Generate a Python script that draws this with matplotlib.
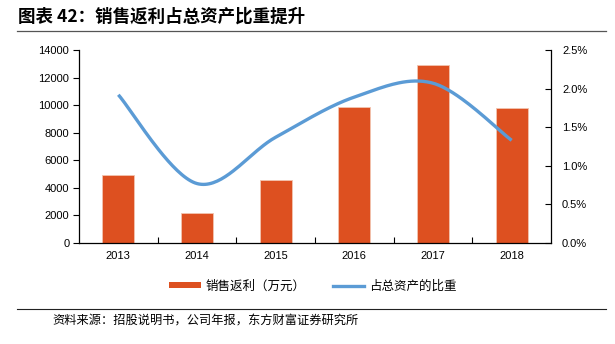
import numpy as np
import matplotlib.pyplot as plt
from matplotlib.lines import Line2D
from matplotlib.patches import Patch

plt.rcParams['font.family'] = ['Liberation Sans', 'Noto Sans CJK SC']

years = ['2013', '2014', '2015', '2016', '2017', '2018']
rebate = [4950, 2150, 4600, 9900, 12900, 9800]          # 销售返利（万元）
share = [1.92, 0.77, 1.37, 1.89, 2.07, 1.33]            # 占总资产的比重 (%)

BAR_COLOR = '#DD5020'
LINE_COLOR = '#5B9BD5'


def smooth(xs, ys, n=40):
    # Excel-style smoothed line: cubic bezier with catmull-rom control points
    xs = np.asarray(xs, float)
    ys = np.asarray(ys, float)
    px, py = [], []
    for i in range(len(xs) - 1):
        x0, y0 = (xs[i - 1], ys[i - 1]) if i > 0 else (xs[i], ys[i])
        x3, y3 = (xs[i + 2], ys[i + 2]) if i + 2 < len(xs) else (xs[i + 1], ys[i + 1])
        p1 = np.array([xs[i], ys[i]])
        p2 = np.array([xs[i + 1], ys[i + 1]])
        c1 = p1 + (p2 - np.array([x0, y0])) / 6
        c2 = p2 - (np.array([x3, y3]) - p1) / 6
        t = np.linspace(0, 1, n)[:, None]
        pts = ((1 - t) ** 3) * p1 + 3 * ((1 - t) ** 2) * t * c1 + 3 * (1 - t) * t ** 2 * c2 + t ** 3 * p2
        px.extend(pts[:, 0])
        py.extend(pts[:, 1])
    return np.array(px), np.array(py)


fig = plt.figure(figsize=(6.15, 3.44), dpi=100)
ax = fig.add_axes([79 / 615, 1 - 243 / 344, 472 / 615, 193 / 344])

x = np.arange(len(years))
ax.bar(x, rebate, width=0.41, color=BAR_COLOR, edgecolor='#F2C4B0', linewidth=0.6, zorder=2)
ax.set_xlim(-0.5, len(years) - 0.5)
ax.set_ylim(0, 14000)
ax.set_yticks(np.arange(0, 14001, 2000))
ax.set_xticks(x)
ax.set_xticklabels(years)
ax.set_xticks(np.arange(0.5, len(years) - 1, 1), minor=True)
ax.tick_params(axis='x', which='major', length=0, labelsize=8, pad=6)
ax.tick_params(axis='x', which='minor', length=4, direction='in', width=0.8)
ax.tick_params(axis='y', length=4, direction='out', width=0.8, labelsize=8, pad=3)
for s in ['top', 'right']:
    ax.spines[s].set_visible(False)
ax.spines['left'].set_linewidth(0.9)
ax.spines['bottom'].set_linewidth(0.9)

ax2 = ax.twinx()
sx, sy = smooth(x, share)
ax2.plot(sx, sy, color=LINE_COLOR, linewidth=2.4, solid_capstyle='butt', zorder=3)
ax2.set_ylim(0, 2.5)
ax2.set_yticks(np.arange(0, 2.51, 0.5))
ax2.set_yticklabels(['%.1f%%' % v for v in np.arange(0, 2.51, 0.5)])
ax2.tick_params(axis='y', length=4, direction='in', width=0.8, labelsize=8, pad=8)
for s in ['top', 'left', 'bottom']:
    ax2.spines[s].set_visible(False)
ax2.spines['right'].set_linewidth(0.9)

# title and rules
fig.text(18 / 615, 1 - 17 / 344, '图表 42：销售返利占总资产比重提升', fontsize=12.6,
         fontweight='bold', va='center', ha='left', family=['Noto Sans CJK SC'])
fig.add_artist(Line2D([17 / 615, 606 / 615], [1 - 31 / 344, 1 - 31 / 344],
                      color='#555555', linewidth=0.9))
fig.add_artist(Line2D([17 / 615, 606 / 615], [1 - 309 / 344, 1 - 309 / 344],
                      color='#222222', linewidth=0.8))
fig.text(52 / 615, 1 - 321 / 344, '资料来源：招股说明书，公司年报，东方财富证券研究所', fontsize=8.8,
         va='center', ha='left', family=['Noto Sans CJK SC'])

handles = [Patch(facecolor=BAR_COLOR, edgecolor='none'),
           Line2D([], [], color=LINE_COLOR, linewidth=2.4)]
fig.legend(handles, ['销售返利（万元）', '占总资产的比重'], loc='center',
           bbox_to_anchor=(313 / 615, 1 - 286 / 344), ncol=2, frameon=False,
           prop={'family': 'Noto Sans CJK SC', 'size': 9},
           handlelength=2.5, handleheight=0.45, columnspacing=2.2, handletextpad=0.4)

fig.savefig('out.png', dpi=100)
